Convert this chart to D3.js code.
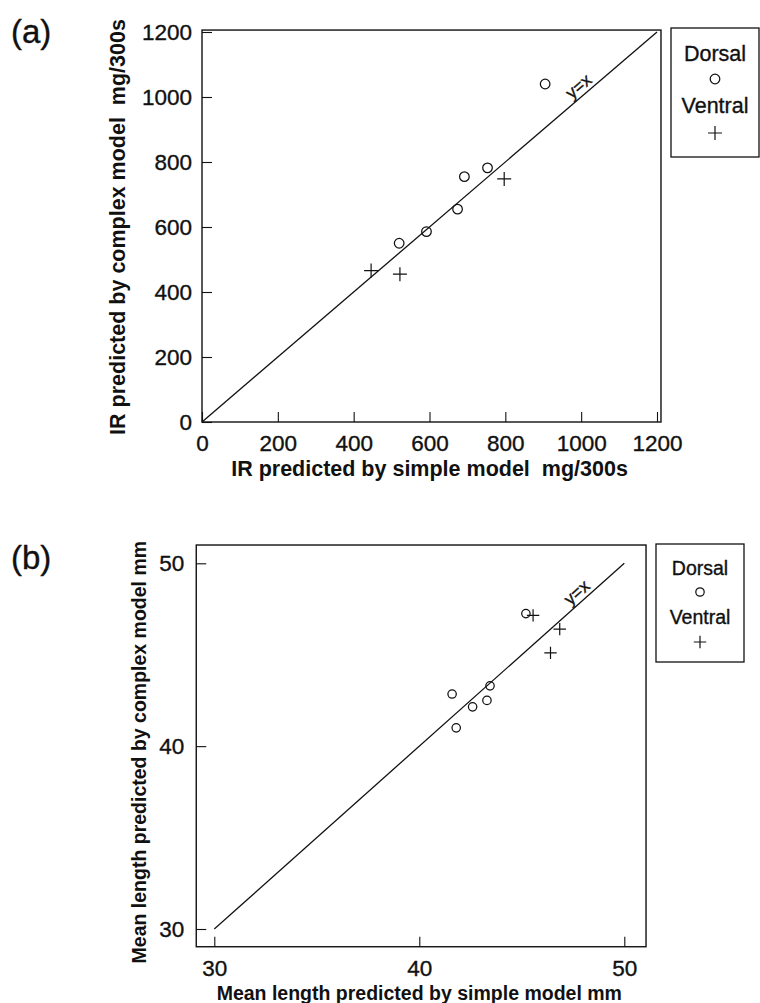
<!DOCTYPE html>
<html>
<head>
<meta charset="utf-8">
<script src="https://cdn.jsdelivr.net/npm/d3@7"></script>
<style>
  html, body { margin: 0; padding: 0; background: #fff; }
  svg { display: block; }
  text { font-family: "Liberation Sans", Arial, Helvetica, sans-serif; fill: #111; }
  text.reg { stroke: #111; stroke-width: 0.35px; }
</style>
</head>
<body>
<svg id="fig" width="760" height="1003"></svg>
<script>
// ---- Panel (a): intake rate, mg/300s ----
const irTicks = [0, 200, 400, 600, 800, 1000, 1200];
const irDorsalSimple  = [905, 753, 692, 674, 592, 520];
const irDorsalComplex = [1040, 782, 755, 655, 586, 550];
const irVentralSimple  = [797, 446, 522];
const irVentralComplex = [748, 466, 455];

// ---- Panel (b): mean length, mm ----
const lenTicks = [30, 40, 50];
const lenDorsalSimple  = [45.2, 41.6, 43.45, 42.6, 43.3, 41.8];
const lenDorsalComplex = [47.25, 42.85, 43.3, 42.15, 42.5, 41.0];
const lenVentralSimple  = [45.55, 46.85, 46.4];
const lenVentralComplex = [47.15, 46.4, 45.1];

const legendLabels = ["Dorsal", "Ventral"];

const svg = d3.select("#fig");
const INK = "#111";

function panel(cfg) {
  const g = svg.append("g");
  const x = d3.scaleLinear().domain(cfg.domain).range(cfg.xRange);
  const y = d3.scaleLinear().domain(cfg.domain).range(cfg.yRange);

  // frame
  g.append("rect")
    .attr("x", x(cfg.frameX[0])).attr("y", y(cfg.frameY[1]))
    .attr("width", x(cfg.frameX[1]) - x(cfg.frameX[0]))
    .attr("height", y(cfg.frameY[0]) - y(cfg.frameY[1]))
    .attr("fill", "none").attr("stroke", INK).attr("stroke-width", 1.4);

  // axes with inward ticks
  const ax = g.append("g")
    .attr("transform", `translate(0,${y(cfg.frameY[0])})`)
    .call(d3.axisBottom(x).tickValues(cfg.ticks).tickSize(-10).tickPadding(cfg.xPad).tickFormat(d3.format("d")));
  const ay = g.append("g")
    .attr("transform", `translate(${x(cfg.frameX[0])},0)`)
    .call(d3.axisLeft(y).tickValues(cfg.ticks).tickSize(-10).tickPadding(cfg.yPad).tickFormat(d3.format("d")));
  [ax, ay].forEach(a => {
    a.select(".domain").remove();
    a.selectAll(".tick line").attr("stroke", INK).attr("stroke-width", 1.1);
    a.selectAll(".tick text").attr("class", "reg").attr("font-size", cfg.tickFont).attr("fill", INK)
      .style("font-family", '"Liberation Sans", Arial, Helvetica, sans-serif');
  });

  // y = x reference line
  g.append("line")
    .attr("x1", x(cfg.domain[0])).attr("y1", y(cfg.domain[0]))
    .attr("x2", x(cfg.domain[1])).attr("y2", y(cfg.domain[1]))
    .attr("stroke", INK).attr("stroke-width", 1.3);
  const ang = -Math.atan2(y(cfg.domain[0]) - y(cfg.domain[1]), x(cfg.domain[1]) - x(cfg.domain[0])) * 180 / Math.PI;
  g.append("text").attr("class", "reg")
    .attr("transform", `translate(${x(cfg.lineLabelAt)},${y(cfg.lineLabelAt)}) rotate(${ang})`)
    .attr("dy", -4).attr("text-anchor", "middle")
    .attr("font-size", 17.5).text("y=x");

  // Dorsal: open circles
  g.selectAll("circle.dorsal")
    .data(d3.zip(cfg.dorsalX, cfg.dorsalY)).join("circle")
    .attr("class", "dorsal")
    .attr("cx", d => x(d[0])).attr("cy", d => y(d[1]))
    .attr("r", cfg.r).attr("fill", "none").attr("stroke", INK).attr("stroke-width", 1.25);

  // Ventral: plus signs
  const s = cfg.cross;
  g.selectAll("path.ventral")
    .data(d3.zip(cfg.ventralX, cfg.ventralY)).join("path")
    .attr("class", "ventral")
    .attr("d", d => {
      const px = x(d[0]), py = y(d[1]);
      return `M${px - s},${py}H${px + s}M${px},${py - s}V${py + s}`;
    })
    .attr("fill", "none").attr("stroke", INK).attr("stroke-width", 1.2);

  // axis titles
  const xMid = (x(cfg.domain[0]) + x(cfg.domain[1])) / 2;
  const yMid = (y(cfg.domain[0]) + y(cfg.domain[1])) / 2;
  g.append("text")
    .attr("x", xMid).attr("y", cfg.xTitleY)
    .attr("text-anchor", "middle").attr("font-weight", "bold").attr("font-size", cfg.titleFont)
    .style("white-space", "pre").text(cfg.xTitle);
  g.append("text")
    .attr("transform", `translate(${cfg.yTitleX},${yMid + cfg.yTitleShift}) rotate(-90)`)
    .attr("text-anchor", "middle").attr("font-weight", "bold").attr("font-size", cfg.titleFont)
    .style("white-space", "pre").text(cfg.yTitle);

  // panel tag
  g.append("text").attr("class", "reg").attr("x", 11).attr("y", cfg.tagY)
    .attr("font-size", 33).text(cfg.tag);

  // legend
  const L = cfg.legend;
  g.append("rect")
    .attr("x", L.x).attr("y", L.y).attr("width", L.w).attr("height", L.h)
    .attr("fill", "none").attr("stroke", INK).attr("stroke-width", 1.3);
  const cx = L.x + L.w / 2;
  legendLabels.forEach((lab, i) => {
    g.append("text").attr("class", "reg").attr("x", cx).attr("y", L.y + L.textY[i])
      .attr("text-anchor", "middle").attr("font-size", L.font).text(lab);
  });
  g.append("circle").attr("cx", cx).attr("cy", L.y + L.markY[0]).attr("r", cfg.r)
    .attr("fill", "none").attr("stroke", INK).attr("stroke-width", 1.25);
  const my = L.y + L.markY[1];
  g.append("path").attr("d", `M${cx - s},${my}H${cx + s}M${cx},${my - s}V${my + s}`)
    .attr("fill", "none").attr("stroke", INK).attr("stroke-width", 1.2);
}

panel({
  tag: "(a)", tagY: 43,
  domain: [0, 1200], ticks: irTicks,
  xRange: [202, 657], yRange: [422, 32],
  frameX: [0, 1210.5], frameY: [0, 1206],
  xPad: 13, yPad: 10, tickFont: 22.5,
  lineLabelAt: 1010,
  dorsalX: irDorsalSimple, dorsalY: irDorsalComplex,
  ventralX: irVentralSimple, ventralY: irVentralComplex,
  r: 4.8, cross: 7,
  titleFont: 21.5,
  xTitle: "IR predicted by simple model  mg/300s", xTitleY: 476,
  yTitle: "IR predicted by complex model  mg/300s", yTitleX: 125, yTitleShift: 0,
  legend: { x: 671, y: 28, w: 88, h: 129, font: 21.5, textY: [33, 85], markY: [51, 105] }
});

panel({
  tag: "(b)", tagY: 569,
  domain: [30, 50], ticks: lenTicks,
  xRange: [214.3, 624.3], yRange: [929, 563.3],
  frameX: [29.12, 51.06], frameY: [29.03, 51.0],
  xPad: 13, yPad: 12, tickFont: 22.5,
  lineLabelAt: 48.0,
  dorsalX: lenDorsalSimple, dorsalY: lenDorsalComplex,
  ventralX: lenVentralSimple, ventralY: lenVentralComplex,
  r: 4.2, cross: 6.2,
  titleFont: 19.5,
  xTitle: "Mean length predicted by simple model mm", xTitleY: 1000,
  yTitle: "Mean length predicted by complex model mm", yTitleX: 146, yTitleShift: 6,
  legend: { x: 656, y: 544, w: 88, h: 118, font: 19.5, textY: [31, 80], markY: [48, 98] }
});
</script>
</body>
</html>
